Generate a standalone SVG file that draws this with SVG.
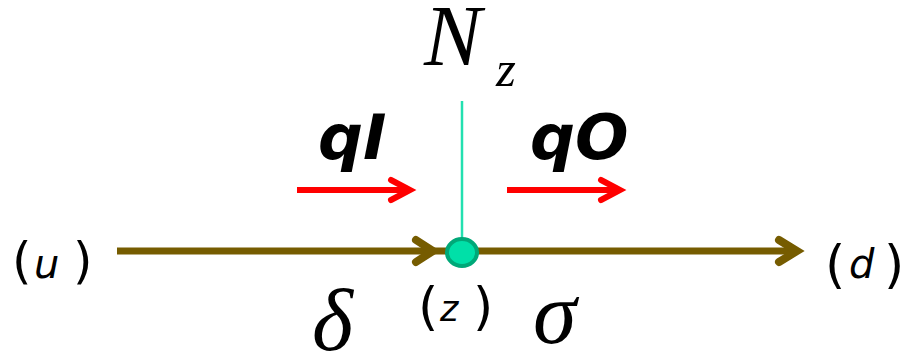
<svg xmlns="http://www.w3.org/2000/svg" width="912" height="351" viewBox="0 0 912 351">
  <style>
    .flow { stroke: #765c00; stroke-width: 7; fill: none; }
    .head { stroke: #765c00; stroke-width: 8; fill: none; stroke-linecap: round; stroke-linejoin: miter; }
    .red { stroke: #ff0000; stroke-width: 6; fill: none; }
    .redhead { stroke: #ff0000; stroke-width: 6; fill: none; stroke-linecap: round; stroke-linejoin: miter; }
    .serif { font-family: "Liberation Serif", "Times New Roman", serif; font-style: italic; fill: #000; }
    .sans { font-family: "DejaVu Sans", Verdana, sans-serif; fill: #000; }
    .it { font-style: italic; }
    .bold { font-weight: bold; font-style: italic; }
  </style>
  <rect width="912" height="351" fill="#ffffff"/>
  <g id="connectors">
    <line x1="462" y1="101" x2="462" y2="240" stroke="#22e0b0" stroke-width="2.5"/>
    <line class="flow" x1="117" y1="251" x2="446" y2="251"/>
    <polyline class="head" points="416,240 433,251 416,262"/>
    <line class="flow" x1="478" y1="251" x2="797" y2="251"/>
    <polyline class="head" points="779,240 797,251 779,262"/>
    <line class="red" x1="297" y1="190" x2="410" y2="190"/>
    <polyline class="redhead" points="391,180 410,190 391,200"/>
    <line class="red" x1="507" y1="190" x2="620" y2="190"/>
    <polyline class="redhead" points="601,180 620,190 601,200"/>
  </g>
  <g id="node-z">
    <ellipse cx="462" cy="252.5" rx="15" ry="13.5" fill="#00e0a8" stroke="#00a878" stroke-width="4"/>
  </g>
  <g id="label-Nz">
    <text class="serif" x="424" y="65" font-size="86">N</text>
    <text class="serif" x="496" y="86" font-size="51">z</text>
  </g>
  <g id="label-qI">
    <text class="sans bold" x="318" y="159" font-size="63">qI</text>
  </g>
  <g id="label-qO">
    <text class="sans bold" x="530" y="159" font-size="63">qO</text>
  </g>
  <g id="node-u">
    <text class="sans" y="278"><tspan x="12" font-size="50">(</tspan><tspan x="34" font-size="40" font-style="italic">u</tspan><tspan x="73" font-size="50">)</tspan></text>
  </g>
  <g id="label-z">
    <text class="sans" y="324"><tspan x="418" font-size="52">(</tspan><tspan x="440" y="321" font-size="35" font-style="italic">z</tspan><tspan x="473" y="324" font-size="52">)</tspan></text>
  </g>
  <g id="node-d">
    <text class="sans" y="282"><tspan x="825" font-size="52">(</tspan><tspan x="849" y="278" font-size="40" font-style="italic">d</tspan><tspan x="884" y="282" font-size="52">)</tspan></text>
  </g>
  <g id="label-delta">
    <text class="serif" x="312" y="350" font-size="88">δ</text>
  </g>
  <g id="label-sigma">
    <text class="serif" x="533" y="343" font-size="88">σ</text>
  </g>
</svg>
